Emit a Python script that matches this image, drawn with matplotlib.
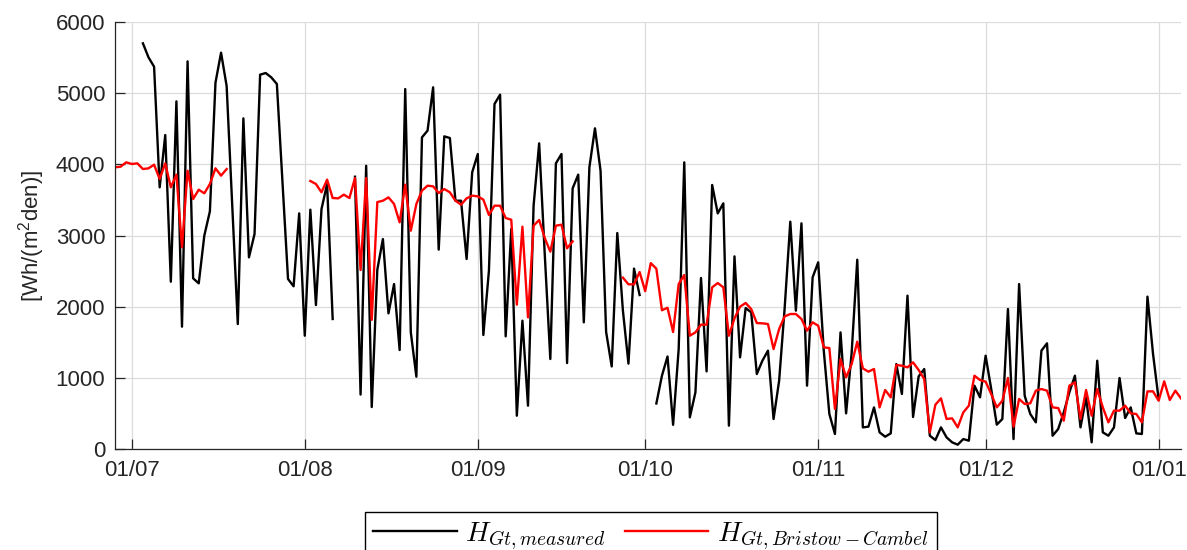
import numpy as np
import pandas as pd
import matplotlib
matplotlib.use('Agg')
import matplotlib.pyplot as plt
import matplotlib.dates as mdates
from matplotlib.font_manager import FontProperties

nan = np.nan

# daily values, 28/06 .. 05/01
start_day = '2023-06-28'
end_day = '2024-01-05'

measured = [
    nan, nan, nan, nan, nan,
    5700, 5503, 5372, 3677, 4412, 2351, 4885, 1719, 5447, 2398,
    2328, 2998, 3340, 5148, 5569, 5101, 3420, 1756, 4646, 2693,
    3021, 5260, 5283, 5222, 5129, 3770, 2389, 2286, 3311, 1592,
    3363, 2023, 3372, 3724, 1827, nan, nan, nan, 3826, 765,
    3980, 590, 2520, 2950, 1906, 2318, 1391, 5058, 1639, 1016,
    4379, 4473, 5082, 2801, 4393, 4370, 3489, 3489, 2670, 3888,
    4145, 1602, 2506, 4848, 4979, 1583, 3091, 468, 1803, 609,
    3419, 4295, 2740, 1265, 4014, 4145, 1208, 3663, 3855, 1780,
    3958, 4506, 3911, 1645, 1160, 3035, 1950, 1200, 2535, 2164,
    nan, nan, 640, 1030, 1300, 340, 1405, 4028, 445, 796,
    2403, 1091, 3710, 3311, 3452, 328, 2707, 1288, 1981, 1920,
    1054, 1241, 1382, 422, 960, 1991, 3194, 1944, 3171, 890,
    2412, 2623, 1382, 492, 211, 1639, 501, 1358, 2660, 304,
    314, 585, 234, 173, 220, 1194, 773, 2155, 450, 1020,
    1124, 187, 126, 304, 164, 94, 61, 140, 117, 890,
    726, 1311, 843, 342, 422, 1967, 140, 2318, 749, 492,
    375, 1382, 1485, 187, 281, 515, 796, 1030, 304, 726,
    94, 1241, 234, 187, 304, 998, 436, 585, 220, 211,
    2141, 1335, 700, nan, nan, nan, nan,
]

bristow = [
    3958, 3967, 4028, 4005, 4014, 3934, 3944, 3995, 3794, 4014,
    3677, 3855, 2834, 3911, 3513, 3644, 3593, 3724, 3944, 3841,
    3934, nan, nan, nan, nan, nan, nan, nan, nan, nan,
    nan, nan, nan, nan, nan, 3766, 3724, 3607, 3785, 3527,
    3522, 3574, 3527, 3808, 2515, 3808, 1815, 3470, 3489, 3536,
    3443, 3185, 3714, 3068, 3443, 3630, 3700, 3691, 3597, 3653,
    3607, 3489, 3433, 3522, 3560, 3550, 3504, 3288, 3419, 3419,
    3246, 3222, 2028, 3124, 1850, 3138, 3218, 2965, 2773, 3138,
    3152, 2820, 2918, nan, nan, nan, nan, nan, nan, nan,
    nan, 2408, 2314, 2314, 2487, 2218, 2612, 2534, 1950, 1985,
    1644, 2318, 2445, 1592, 1639, 1747, 1747, 2272, 2332, 2272,
    1592, 1836, 2000, 2052, 1967, 1770, 1766, 1756, 1405, 1686,
    1864, 1897, 1897, 1827, 1663, 1780, 1733, 1429, 1419, 562,
    1265, 1007, 1194, 1508, 1133, 1087, 1124, 585, 829, 726,
    1180, 1171, 1147, 1218, 1110, 984, 234, 623, 712, 422,
    431, 304, 515, 609, 1030, 969, 946, 773, 585, 679,
    998, 314, 703, 632, 642, 820, 843, 820, 585, 576,
    398, 890, 937, 422, 829, 468, 843, 585, 375, 539,
    539, 609, 501, 492, 375, 810, 810, 679, 951, 689,
    820, 712,
]

days = pd.date_range(start_day, end_day, freq='D')
measured = np.array(measured, dtype=float)
bristow = np.array(bristow, dtype=float)

plt.rcParams['font.family'] = ['Liberation Sans', 'DejaVu Sans']
plt.rcParams['mathtext.fontset'] = 'custom'
plt.rcParams['mathtext.rm'] = 'Liberation Sans'
plt.rcParams['mathtext.it'] = 'Liberation Sans:italic'

axis_col = '#262626'

fig = plt.figure(figsize=(11.87, 5.5), dpi=100)
ax = fig.add_axes([0.0969, 0.1836, 0.898, 0.7764])

ax.plot(days, measured, color='black', lw=1.7, label=r'$H_{Gt,measured}$')
ax.plot(days, bristow, color='red', lw=1.7, label=r'$H_{Gt,Bristow-Cambel}$')

ax.set_xlim(pd.Timestamp(start_day), pd.Timestamp(end_day))
ax.set_ylim(0, 6000)
ax.set_yticks(np.arange(0, 6001, 1000))
ax.xaxis.set_major_locator(mdates.MonthLocator())
ax.xaxis.set_major_formatter(mdates.DateFormatter('%d/%m'))

ax.grid(True, color='#dcdcdc', lw=0.9)
ax.set_axisbelow(True)
for s in ['top', 'right']:
    ax.spines[s].set_visible(False)
for s in ['left', 'bottom']:
    ax.spines[s].set_color(axis_col)
    ax.spines[s].set_linewidth(0.9)
ax.tick_params(direction='in', length=7, width=0.9, colors=axis_col,
               labelsize=16, labelcolor=axis_col)
ax.tick_params(axis='x', pad=8)
ax.tick_params(axis='y', pad=7)

ax.set_ylabel('[Wh/(m$^2$den)]', fontsize=16, color=axis_col, labelpad=6)

leg_font = FontProperties(size=20, math_fontfamily='cm')
fig.legend(loc='upper left', bbox_to_anchor=(0.3075, 0.0691), ncol=2,
           prop=leg_font, frameon=True, fancybox=False, framealpha=1,
           edgecolor='black', handlelength=3.0, handletextpad=0.3,
           columnspacing=0.7, borderpad=0.3, borderaxespad=0)

fig.savefig('out.png', dpi=100)
